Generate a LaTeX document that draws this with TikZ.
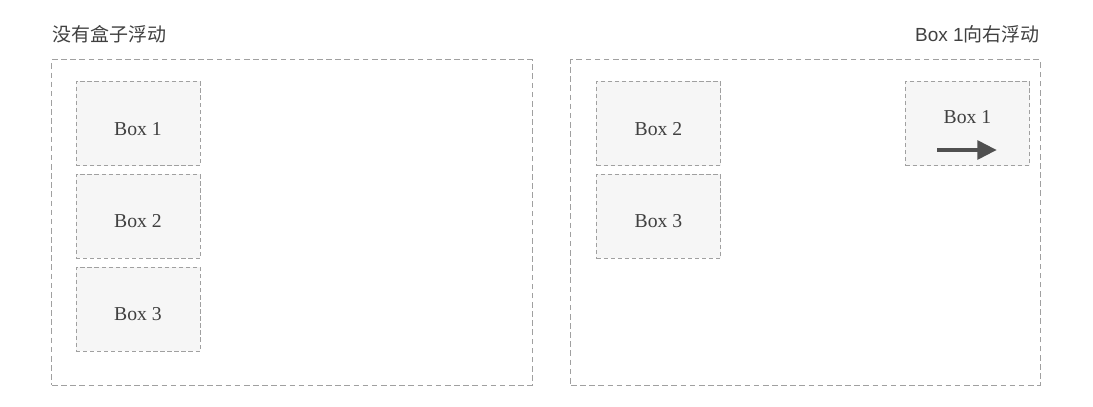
\documentclass[tikz,border=0pt]{standalone}
\usepackage{fontspec}
\setmainfont{Liberation Serif}
\newfontfamily\titlefont{Liberation Sans}
\newfontfamily\cjkfont{Noto Sans CJK SC}
\usetikzlibrary{arrows.meta, positioning}
\definecolor{dashgray}{HTML}{A0A0A0}
\definecolor{boxfill}{HTML}{F6F6F6}
\definecolor{arrowgray}{HTML}{505050}
\tikzset{
  outerbox/.style={draw=dashgray, line width=0.7pt, dash pattern=on 4pt off 2.5pt,
    minimum width=12cm, minimum height=8.125cm, inner sep=0pt},
  floatbox/.style={draw=dashgray, fill=boxfill, line width=0.6pt, dash pattern=on 3pt off 2pt,
    minimum width=3.1cm, minimum height=2.1cm, inner sep=0pt,
    text height=16.5pt, text depth=0pt,
    font=\fontsize{14}{16}\selectfont, text=black!75},
  title/.style={inner sep=0pt, font=\fontsize{13.5}{15}\selectfont, text=black!75}
}

\begin{document}
\begin{tikzpicture}[x=0.025cm, y=-0.025cm]
      \useasboundingbox (0,0) rectangle (1093,407);
      % containers
      \node[outerbox, minimum width=12cm] (leftbox) at (292,222.5) {};
      \node[outerbox, minimum width=11.725cm] (rightbox) at (805.5,222.5) {};
      \node[title, anchor=base west] (lefttitle) at (52,42) {\cjkfont 没有盒子浮动};
      \node[title, anchor=base east] (righttitle) at (1040,42) {\titlefont Box 1\cjkfont 向右浮动};
      % no float
      \node[floatbox] (lboxa) at (138,123.5) {Box 1};
      \node[floatbox, below=0.2cm of lboxa] (lboxb) {Box 2};
      \node[floatbox, below=0.2cm of lboxb] (lboxc) {Box 3};
      % box 1 floated right
      \node[floatbox] (rboxb) at (658.5,123.5) {Box 2};
      \node[floatbox, below=0.2cm of rboxb] (rboxc) {Box 3};
      \node[floatbox, text height=0pt] (rboxa) at (967.5,123.5) {Box 1};
      \coordinate (arrowstart) at (937,150);
      \coordinate (arrowend) at (997,150);
      \draw[arrowgray, line width=3.5pt, -{Triangle[length=14pt, width=13pt]}] (arrowstart) -- (arrowend);
\end{tikzpicture}
\end{document}
